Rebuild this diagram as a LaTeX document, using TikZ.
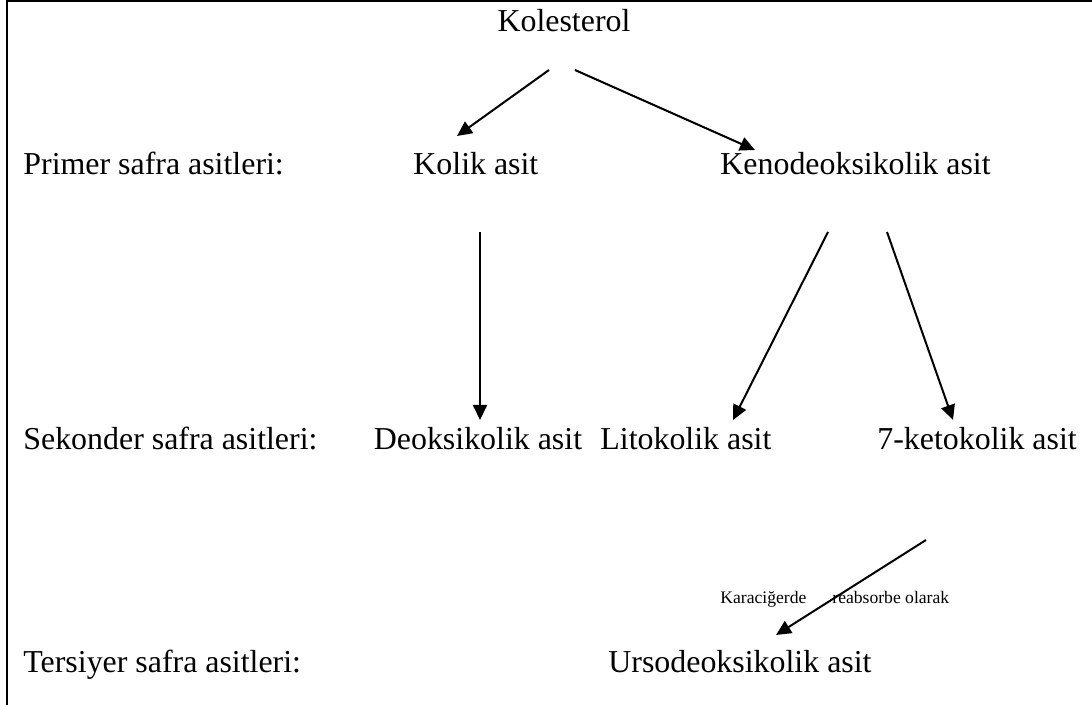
\documentclass[tikz,border=0pt]{standalone}
\usepackage{fontspec}
\setmainfont{Liberation Serif}
\usetikzlibrary{arrows.meta}
\begin{document}
\begin{tikzpicture}[x=0.5pt,y=-0.5pt,
  lbl/.style={inner sep=0pt,anchor=base west,font=\fontsize{15.95pt}{19pt}\selectfont},
  small/.style={inner sep=0pt,anchor=base west,font=\fontsize{8.8pt}{10pt}\selectfont},
  arr/.style={line width=1pt,-{Triangle[length=7.5pt,width=7pt]}},
  frame/.style={line width=1pt}]
\useasboundingbox (0,0) rectangle (1092,705);
% frame
\coordinate (fbl) at (7,705);
\coordinate (ftl) at (7,1);
\coordinate (ftr) at (1092,1);
\draw[frame] (fbl) -- (ftl) -- (ftr);
% texts
\node[lbl,anchor=base] (kol) at (564,32) {Kolesterol};
\node[lbl] (prim) at (23,175) {Primer safra asitleri:};
\node[lbl] (kolik) at (413,175) {Kolik asit};
\node[lbl] (keno) at (720,175) {Kenodeoksikolik asit};
\node[lbl] (sek) at (23,450) {Sekonder safra asitleri:};
\node[lbl,anchor=base] (deok) at (478,450) {Deoksikolik asit};
\node[lbl] (lito) at (600,450) {Litokolik asit};
\node[lbl] (keto) at (877,450) {7-ketokolik asit};
\node[small] (kar) at (720,603) {Karaciğerde};
\node[small] (reab) at (832,603) {reabsorbe olarak};
\node[lbl] (ter) at (23,672) {Tersiyer safra asitleri:};
\node[lbl] (urso) at (608,672) {Ursodeoksikolik asit};
% arrow ends
\coordinate (a1s) at (549,70);  \coordinate (a1e) at (457,136);
\coordinate (a2s) at (575,70);  \coordinate (a2e) at (755,150);
\coordinate (a3s) at (480,232); \coordinate (a3e) at (480,420);
\coordinate (a4s) at (828,232); \coordinate (a4e) at (733,420);
\coordinate (a5s) at (887,232); \coordinate (a5e) at (953,420);
\coordinate (a6s) at (926,540); \coordinate (a6e) at (776,635);
\draw[arr] (a1s) -- (a1e);
\draw[arr] (a2s) -- (a2e);
\draw[arr] (a3s) -- (a3e);
\draw[arr] (a4s) -- (a4e);
\draw[arr] (a5s) -- (a5e);
\draw[arr] (a6s) -- (a6e);
\end{tikzpicture}
\end{document}
